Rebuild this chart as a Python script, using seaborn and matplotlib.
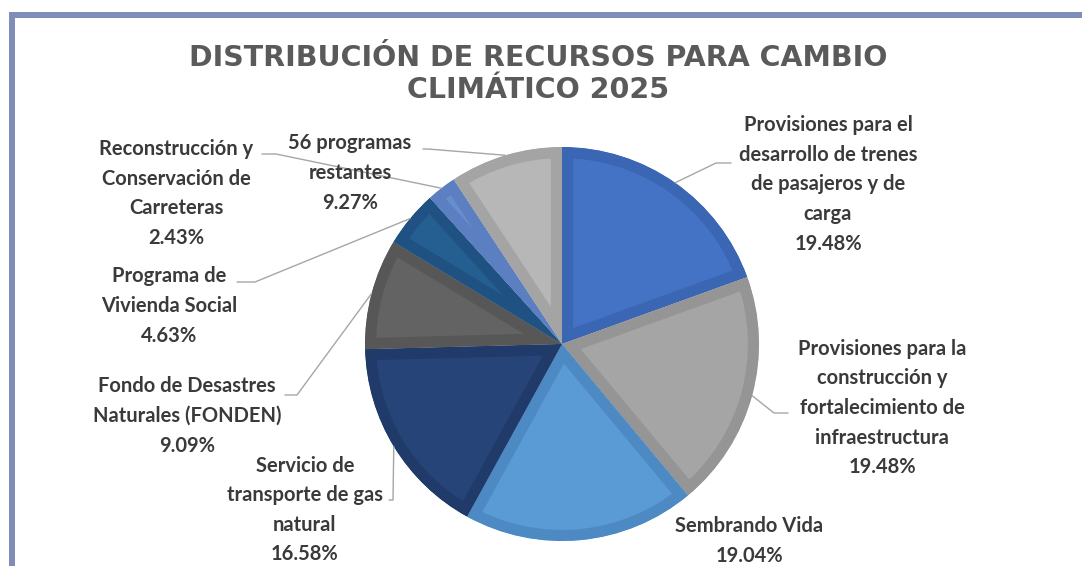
import numpy as np
import matplotlib
matplotlib.use("Agg")
import matplotlib.pyplot as plt
import seaborn as sns

# ---------------------------
# Data
# ---------------------------
labels = [
    "Provisiones para el\ndesarrollo de trenes\nde pasajeros y de\ncarga",
    "Provisiones para la\nconstrucción y\nfortalecimiento de\ninfraestructura",
    "Sembrando Vida",
    "Servicio de\ntransporte de gas\nnatural",
    "Fondo de Desastres\nNaturales (FONDEN)",
    "Programa de\nVivienda Social",
    "Reconstrucción y\nConservación de\nCarreteras",
    "56 programas\nrestantes",
]
shares = [19.48, 19.48, 19.04, 16.58, 9.09, 4.63, 2.43, 9.27]

fill_colors = ["#4472C4", "#A5A5A5", "#5B9BD5", "#264478",
               "#636363", "#255E91", "#698ED0", "#B7B7B7"]
edge_colors = ["#3B66B4", "#959595", "#4D8AC3", "#203B69",
               "#575757", "#1F5282", "#5B7FC0", "#A4A4A4"]

# label layout in pixels: text centre, leader elbow, leader end (None = no leader)
W, H = 1082, 566
label_layout = [
    ((828, 184.5), (716, 163), (731, 163)),
    ((882, 408), (774, 413), (788, 413)),
    ((749, 541), None, None),
    ((305, 510), (393, 500), (389, 500)),
    ((187, 416), (297, 395), (285, 395)),
    ((169, 306), (255, 282), (237, 282)),
    ((176, 193.5), (276, 154), (262, 154)),
    ((350, 173), (428, 149), (423, 149)),
]

sns.set_style("white")
plt.rcParams['font.family'] = ['Lato', 'DejaVu Sans']

fig = plt.figure(figsize=(W / 100, H / 100), dpi=100)
ax = fig.add_axes([0, 0, 1, 1])

cx, cy, r = 562, H - 344, 197
wedges, _ = ax.pie(shares, colors=fill_colors, startangle=90, counterclock=False,
                   center=(cx, cy), radius=r,
                   wedgeprops=dict(linewidth=16, edgecolor="white"))
for w, ec in zip(wedges, edge_colors):
    w.set_edgecolor(ec)
    w.set_clip_on(True)
    w.set_clip_path(w)

ax.set_xlim(0, W)
ax.set_ylim(0, H)
ax.set_aspect("equal")
ax.axis("off")

# labels + leader lines
for w, lab, val, (tpos, elbow, end) in zip(wedges, labels, shares, label_layout):
    mid = np.deg2rad((w.theta1 + w.theta2) / 2)
    rim = (cx + r * np.cos(mid), cy + r * np.sin(mid))
    ax.text(tpos[0], H - tpos[1], f"{lab}\n{val:.2f}%", ha="center", va="center",
            fontsize=14.5, color="#3A3A3A", linespacing=1.6, fontweight="bold")
    if elbow is not None:
        ax.plot([rim[0], elbow[0], end[0]], [rim[1], H - elbow[1], H - end[1]],
                color="#A6A6A6", lw=1)

# title
fig.text(538 / W, 1 - 74 / H, "DISTRIBUCIÓN DE RECURSOS PARA CAMBIO\nCLIMÁTICO 2025",
         ha="center", va="center", fontsize=20.5, color="#5A5A5A",
         family="DejaVu Sans", fontweight="bold", linespacing=1.2)

# frame (top + left edge)
frame = "#7F8DB8"
fig.add_artist(plt.Rectangle((9 / W, -0.1), 6 / W, 1.1 - 12 / H,
                             transform=fig.transFigure, color=frame, lw=0))
fig.add_artist(plt.Rectangle((9 / W, 1 - 18 / H), 1.1, 6 / H,
                             transform=fig.transFigure, color=frame, lw=0))

fig.savefig("out.png", dpi=100)
